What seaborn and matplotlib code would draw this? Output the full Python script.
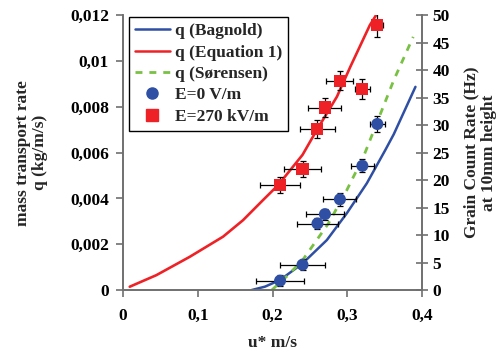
import numpy as np
import pandas as pd
import matplotlib
matplotlib.use("Agg")
import matplotlib.pyplot as plt
import seaborn as sns
from matplotlib.lines import Line2D

# Model curves (u*, q in kg/m/s)
bag_u = [0.172, 0.19, 0.21, 0.24, 0.2725, 0.2992, 0.326, 0.3505, 0.362, 0.391]
bag_q = [0.0, 0.00015, 0.00044, 0.00116, 0.00218, 0.00335, 0.00466, 0.0061, 0.0068, 0.00887]

eq1_u = [0.009, 0.0446, 0.0892, 0.1338, 0.1605, 0.1873, 0.2074, 0.24, 0.259, 0.286, 0.304, 0.330, 0.341]
eq1_q = [0.000145, 0.00065, 0.00145, 0.00233, 0.00305, 0.00393, 0.00458, 0.0059, 0.00698, 0.00844, 0.00975, 0.01156, 0.01214]

sor_u = [0.199, 0.219, 0.24, 0.2747, 0.2992, 0.3215, 0.362, 0.388]
sor_q = [0.0, 0.0006, 0.0013, 0.00291, 0.00436, 0.00582, 0.00916, 0.01105]

# Measured grain count rate (Hz)
e0_u = [0.21, 0.24, 0.26, 0.27, 0.29, 0.32, 0.34]
e0_hz = [1.7, 4.6, 12.1, 13.8, 16.5, 22.6, 30.2]
e0_uerr = [0.032, 0.03, 0.027, 0.025, 0.022, 0.015, 0.01]
e0_hzerr = [1.0, 1.0, 1.0, 1.0, 1.2, 1.2, 1.5]

e270_u = [0.21, 0.24, 0.26, 0.27, 0.29, 0.32, 0.34]
e270_hz = [19.1, 22.0, 29.3, 33.2, 38.1, 36.5, 48.2]
e270_uerr = [0.027, 0.025, 0.023, 0.022, 0.018, 0.01, 0.007]
e270_hzerr = [1.5, 1.5, 1.6, 1.7, 1.8, 1.8, 2.2]

x_ticks = [0, 0.1, 0.2, 0.3, 0.4]
x_labels = ["0", "0,1", "0,2", "0,3", "0,4"]
q_ticks = [0, 0.002, 0.004, 0.006, 0.008, 0.010, 0.012]
q_labels = ["0", "0,002", "0,004", "0,006", "0,008", "0,01", "0,012"]
hz_ticks = list(range(0, 55, 5))

blue = "#2E4FA3"
red = "#EE2226"
green = "#79C143"
gray = "#707070"

sns.set_style("ticks")
plt.rcParams["font.family"] = ["Liberation Serif", "DejaVu Serif"]
plt.rcParams["font.weight"] = "bold"
fs = 12.5

fig = plt.figure(figsize=(5.02, 3.52), dpi=100)
ax = fig.add_axes([0.245, 0.176, 0.596, 0.781])
ax2 = ax.twinx()

sns.lineplot(x=bag_u, y=bag_q, ax=ax, color=blue, linewidth=1.8, sort=False)
sns.lineplot(x=eq1_u, y=eq1_q, ax=ax, color=red, linewidth=1.9, sort=False)
sns.lineplot(x=sor_u, y=sor_q, ax=ax, color=green, linewidth=2.0, sort=False,
             linestyle=(0, (2.5, 2.5)))

ax2.errorbar(e0_u, e0_hz, xerr=e0_uerr, yerr=e0_hzerr, fmt="none",
             ecolor="black", elinewidth=0.9, capsize=2.5, capthick=0.9, zorder=3)
ax2.errorbar(e270_u, e270_hz, xerr=e270_uerr, yerr=e270_hzerr, fmt="none",
             ecolor="black", elinewidth=0.9, capsize=2.5, capthick=0.9, zorder=3)
sns.scatterplot(x=e0_u, y=e0_hz, ax=ax2, color=blue, marker="o", s=75,
                edgecolor="none", zorder=4)
sns.scatterplot(x=e270_u, y=e270_hz, ax=ax2, color=red, marker="s", s=75,
                edgecolor="none", zorder=4)

ax.set_xlim(0, 0.4)
ax.set_ylim(0, 0.012)
ax2.set_ylim(0, 50)
ax.set_xticks(x_ticks)
ax.set_xticklabels(x_labels)
ax.set_yticks(q_ticks)
ax.set_yticklabels(q_labels)
ax2.set_yticks(hz_ticks)

for a in (ax, ax2):
    for s in a.spines.values():
        s.set_color(gray)
        s.set_linewidth(1.2)
    a.spines["top"].set_visible(False)
ax.tick_params(axis="both", colors=gray, labelcolor="black", length=5, width=1.2,
               labelsize=fs, pad=5)
ax.tick_params(axis="x", pad=8)
ax2.tick_params(axis="y", colors=gray, labelcolor="black", direction="inout",
                length=9, width=1.2, labelsize=fs, pad=3)
for lab in ax.get_xticklabels() + ax.get_yticklabels() + ax2.get_yticklabels():
    lab.set_fontweight("bold")

ax.set_xlabel("u* m/s", fontweight="bold", fontsize=fs, labelpad=8)
ax.set_ylabel("mass transport rate\nq (kg/m/s)", fontweight="bold", fontsize=fs,
              labelpad=16, linespacing=1.1)
ax2.set_ylabel("Grain Count Rate (Hz)\nat 10mm height", fontweight="bold",
               fontsize=fs, labelpad=10, linespacing=1.1)

handles = [
    Line2D([], [], color=blue, linewidth=1.8),
    Line2D([], [], color=red, linewidth=1.8),
    Line2D([], [], color=green, linewidth=2.0, linestyle=(0, (2.5, 2.5))),
    Line2D([], [], color=blue, marker="o", linestyle="none", markersize=8),
    Line2D([], [], color=red, marker="s", linestyle="none", markersize=8),
]
labels = ["q (Bagnold)", "q (Equation 1)", "q (S\u00f8rensen)", "E=0 V/m", "E=270 kV/m"]
leg = ax2.legend(handles, labels, loc="upper left", bbox_to_anchor=(0.02, 0.993),
                 borderaxespad=0, fancybox=False, edgecolor="black", framealpha=1,
                 handlelength=2.0, handletextpad=0.3, labelspacing=0.3,
                 borderpad=0.35, prop={"weight": "bold", "size": 12.5})
leg.get_frame().set_linewidth(1.0)

fig.savefig("out.png", dpi=100)
